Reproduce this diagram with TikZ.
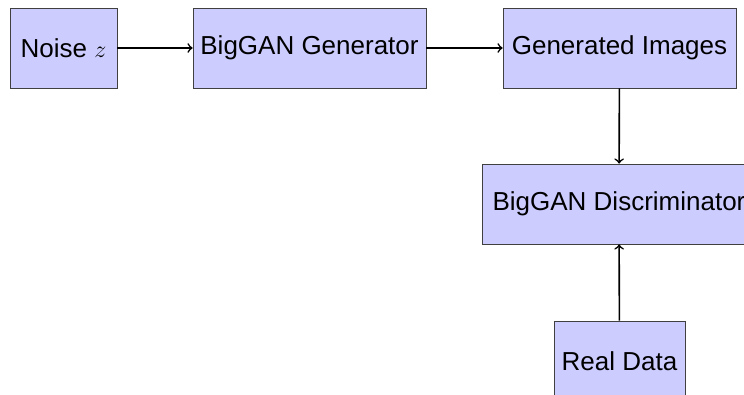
\documentclass[tikz,border=0pt]{standalone}
\usepackage{fontspec}
\setmainfont{Liberation Sans}

\begin{document}
\begin{tikzpicture}[x=0.5pt,y=-0.5pt,
    block/.style={draw=black!75,fill=blue!20,minimum height=40pt,inner sep=0pt,
      font=\fontsize{13pt}{15.6pt}\selectfont},
    flow/.style={->,thick}]
  \useasboundingbox (0,0) rectangle (744,395);
  % Generator side
  \node[block,minimum width=53.5pt] (noise) at (63.5,48) {Noise $z$};
  \node[block,minimum width=116.5pt] (gen) at (309.5,48) {BigGAN Generator};
  \node[block,minimum width=116.5pt] (imgs) at (619.5,48) {Generated Images};
  % Discriminator side
  \node[block,minimum width=137pt] (disc) at (619,204) {BigGAN Discriminator};
  \node[block,minimum width=65.5pt] (real) at (619.5,361) {Real Data};

  \draw[flow] (noise) -- (gen);
  \draw[flow] (gen) -- (imgs);
  \draw[flow] (imgs) -- (disc);
  \draw[flow] (real) -- (disc);
\end{tikzpicture}
\end{document}
